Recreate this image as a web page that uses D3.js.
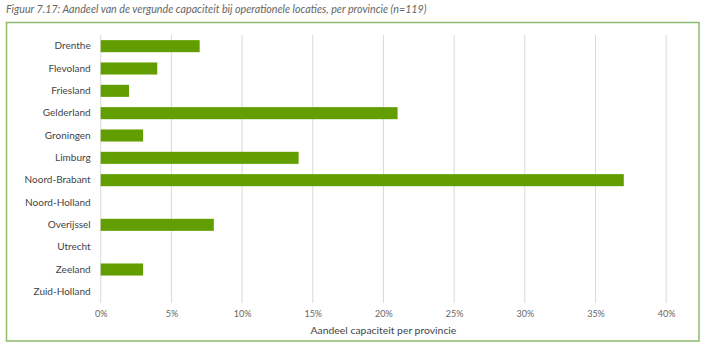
<!DOCTYPE html>
<html><head><meta charset="utf-8">
<script src="https://cdn.jsdelivr.net/npm/d3@7/dist/d3.min.js"></script>
<style>body{margin:0;background:#fff}svg{display:block}</style>
</head><body>
<script>
const categories = ["Drenthe","Flevoland","Friesland","Gelderland","Groningen","Limburg","Noord-Brabant","Noord-Holland","Overijssel","Utrecht","Zeeland","Zuid-Holland"];
const values = [7,4,2,21,3,14,37,0,8,0,3,0];
const ticks = [0,5,10,15,20,25,30,35,40];
const titleText = "Figuur 7.17: Aandeel van de vergunde capaciteit bij operationele locaties, per provincie (n=119)";
const axisTitle = "Aandeel capaciteit per provincie";

const W = 708, H = 356;
const svg = d3.select("body").append("svg").attr("width", W).attr("height", H);

svg.append("text").attr("x", 6).attr("y", 13)
  .attr("font-family", "Lato, 'Open Sans', sans-serif").attr("font-style", "italic")
  .attr("font-size", 10.7).attr("fill", "#666").text(titleText);

svg.append("rect").attr("x", 6.5).attr("y", 22.5).attr("width", 692.5).attr("height", 318.5)
  .attr("fill", "none").attr("stroke", "#8fbb6d").attr("stroke-width", 1.5);

const x = d3.scaleLinear().domain([0, 40]).range([100.7, 666.2]);
const y = d3.scaleBand().domain(categories).range([35, 303]).paddingInner(0.46).paddingOuter(0.23);

const g = svg.append("g");
g.selectAll("line.grid").data(ticks).join("line").attr("class", "grid")
  .attr("x1", d => x(d)).attr("x2", d => x(d)).attr("y1", 35).attr("y2", 303)
  .attr("stroke", "#d9d9d9").attr("stroke-width", 1);

g.selectAll("rect.bar").data(values).join("rect").attr("class", "bar")
  .attr("x", x(0)).attr("y", (d, i) => y(categories[i]))
  .attr("width", d => x(d) - x(0)).attr("height", y.bandwidth())
  .attr("fill", "#639e00");

const yAxis = d3.axisLeft(y).tickSize(0).tickPadding(10);
const ya = svg.append("g").attr("transform", `translate(${x(0)},0)`).call(yAxis);
ya.select(".domain").remove();
ya.selectAll("text").attr("font-family", "Lato, 'Open Sans', sans-serif").attr("font-size", 10).attr("fill", "#444");

const xAxis = d3.axisBottom(x).tickValues(ticks).tickSize(0).tickPadding(8).tickFormat(d => d + "%");
const xa = svg.append("g").attr("transform", `translate(0,303)`).call(xAxis);
xa.select(".domain").remove();
xa.selectAll("text").attr("font-family", "Lato, 'Open Sans', sans-serif").attr("font-size", 9).attr("fill", "#666");

svg.append("text").attr("x", (x(0) + x(40)) / 2).attr("y", 334).attr("text-anchor", "middle")
  .attr("font-family", "Lato, 'Open Sans', sans-serif").attr("font-size", 10.4).attr("fill", "#444").text(axisTitle);
</script>
</body></html>
